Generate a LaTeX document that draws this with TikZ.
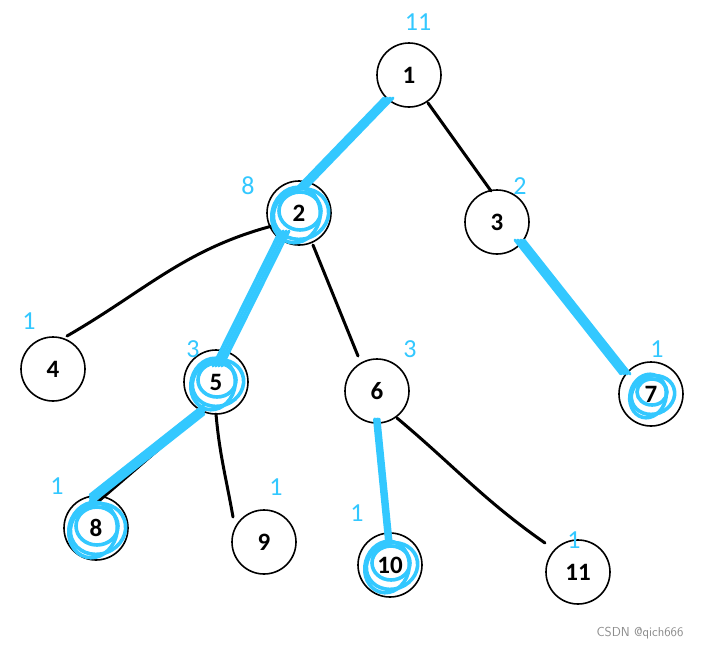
\documentclass[tikz,border=0pt]{standalone}
\usepackage{fontspec}
\setmainfont{Carlito}
\begin{document}
\begin{tikzpicture}[x=1pt,y=-1pt,
  tnode/.style={circle,draw=black,line width=1.6pt,minimum size=64pt,inner sep=0pt,font=\fontsize{25}{27}\selectfont\bfseries},
  cnt/.style={text=hl,font=\fontsize{26}{28}\selectfont,inner sep=0pt},
  edge/.style={draw=black,line width=3pt,line cap=round},
  hledge/.style={draw=hl,line width=3pt,line cap=round,line join=round},
  scrib/.style={draw=hl,line width=3.6pt}]
\definecolor{hl}{RGB}{51,200,255}
\useasboundingbox (0,0) rectangle (702,649);
\fill[white] (0,0) rectangle (702,649);
% nodes
\node[tnode] (n1) at (409,75) {1};
\node[tnode] (n2) at (299,213) {};
\node[tnode] (n3) at (497,222) {3};
\node[tnode] (n4) at (53,369) {4};
\node[tnode] (n5) at (216,382) {};
\node[tnode] (n6) at (377,391) {6};
\node[tnode] (n7) at (651,394) {};
\node[tnode] (n8) at (96,528) {};
\node[tnode] (n9) at (264,542) {9};
\node[tnode] (n10) at (390,565) {};
\node[tnode] (n11) at (578,572) {11};
% black edges
\draw[edge] ([shift={(19,28)}]n1.center) -- ([shift={(-6,-31)}]n3.center);
\draw[edge] ([shift={(-27,13)}]n2.center) to[out=195,in=30] ([shift={(14,-33)}]n4.center);
\draw[edge] ([shift={(14,32)}]n2.center) -- ([shift={(-19,-35)}]n6.center);
\draw[edge] ([shift={(0,32)}]n5.center) to[out=-85,in=100] ([shift={(-31,-25)}]n9.center);
\draw[edge] ([shift={(20,27)}]n6.center) to[out=-40,in=145] ([shift={(-33,-29)}]n11.center);
\draw[edge] ([shift={(-14,30)}]n5.center) -- ([shift={(-3,-22)}]n8.center);
\draw[edge] ([shift={(26,20)}]n3.center) -- ([shift={(-28,-22)}]n7.center);
% blue heavy edges
\foreach \d in {-5,-2,1,4}{
  \draw[hledge] ([shift={(-20+\d,23)}]n1.center) -- ([shift={(4+\d,-26)}]n2.center);
  \draw[hledge] ([shift={(-14+\d,18)}]n2.center) -- ([shift={(2+\d,-16)}]n5.center);
  \draw[hledge] ([shift={(-12,28+\d)}]n5.center) -- ([shift={(-6,-28+\d)}]n8.center);
  \draw[hledge] ([shift={(0+\d/2,28)}]n6.center) -- ([shift={(-1+\d/2,-24)}]n10.center);
  \draw[hledge] ([shift={(23+\d,18)}]n3.center) -- ([shift={(-25+\d,-20)}]n7.center);
}
% scribbles
\foreach \n/\r in {n2/28,n5/26,n8/28,n10/26,n7/22}{
  \draw[scrib] ([shift={(2,1)}]\n.center) ellipse[x radius=\r pt,y radius=\r pt-3pt,rotate=20];
  \draw[scrib] ([shift={(-3,2)}]\n.center) ellipse[x radius=\r pt-4pt,y radius=\r pt,rotate=-15];
  \draw[scrib] ([shift={(1,-2)}]\n.center) ellipse[x radius=\r pt-7pt,y radius=\r pt-9pt];
}
% labels on top of scribbles
\foreach \n/\t in {n2/2,n5/5,n8/8,n10/10,n7/7}{
  \node[font=\fontsize{25}{27}\selectfont\bfseries,inner sep=0pt] at (\n.center) {\t};
}
% subtree sizes
\node[cnt] (c1) at (418,22) {11};
\node[cnt] (c2) at (248,186) {8};
\node[cnt] (c3) at (520,186) {2};
\node[cnt] (c4) at (29,321) {1};
\node[cnt] (c5) at (193,349) {3};
\node[cnt] (c6) at (410,349) {3};
\node[cnt] (c7) at (657,349) {1};
\node[cnt] (c8) at (57,486) {1};
\node[cnt] (c9) at (276,487) {1};
\node[cnt] (c10) at (357,513) {1};
\node[cnt] (c11) at (574,540) {1};
\node[text=black!45,font=\fontsize{13}{14}\selectfont\sffamily,inner sep=0pt] (wm) at (640,633) {CSDN @qich666};
\end{tikzpicture}
\end{document}
